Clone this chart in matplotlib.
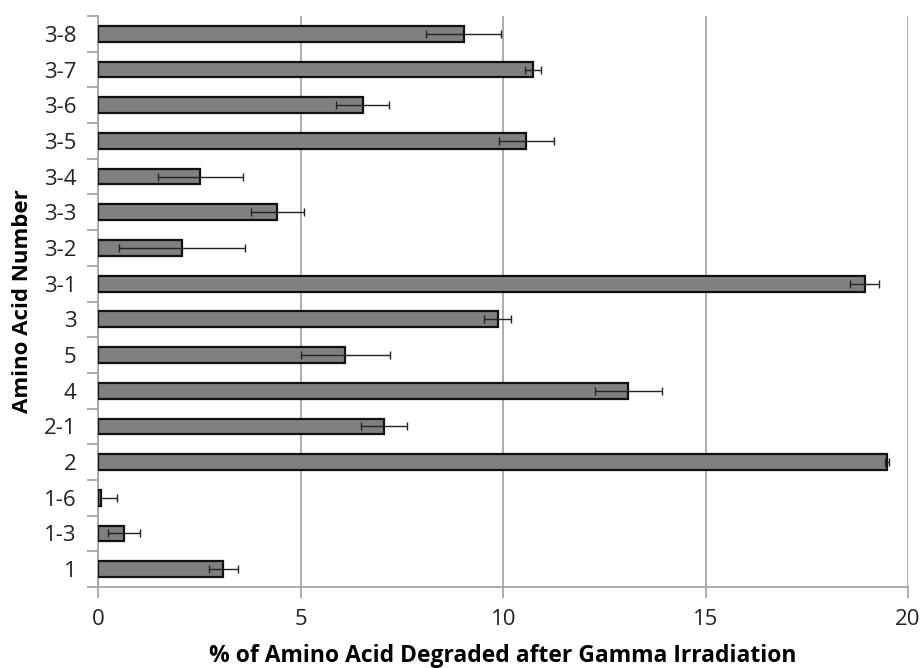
import numpy as np
import matplotlib
matplotlib.use("Agg")
import matplotlib.pyplot as plt
from matplotlib.ticker import FixedLocator

plt.rcParams['font.family'] = ['Open Sans', 'DejaVu Sans']

# amino acids, listed bottom to top
labels = ["1", "1-3", "1-6", "2", "2-1", "4", "5", "3",
          "3-1", "3-2", "3-3", "3-4", "3-5", "3-6", "3-7", "3-8"]
degraded = [3.08, 0.63, 0.06, 19.47, 7.05, 13.09, 6.10, 9.86,
            18.93, 2.06, 4.42, 2.52, 10.57, 6.53, 10.74, 9.02]
err = [0.36, 0.40, 0.40, 0.05, 0.57, 0.83, 1.10, 0.34,
       0.36, 1.55, 0.66, 1.05, 0.68, 0.66, 0.20, 0.93]

fig = plt.figure(figsize=(9.22, 6.68), dpi=100)
ax = fig.add_axes([0.1068, 0.1213, 0.8780, 0.8547])

y = np.arange(len(labels))
ax.barh(y, degraded, height=0.44, color='#808080', edgecolor='#111111',
        linewidth=1.6, zorder=3)
ax.errorbar(degraded, y, xerr=err, fmt='none', ecolor='#222222',
            elinewidth=1.0, capsize=2.6, capthick=1.0, zorder=4)

ax.set_xlim(0, 20)
ax.set_ylim(-0.5, len(labels) - 0.5)
ax.set_xticks([0, 5, 10, 15, 20])
ax.set_yticks(y)
ax.set_yticklabels(labels)
ax.yaxis.set_minor_locator(FixedLocator(np.arange(-0.5, len(labels), 1.0)))

ax.grid(axis='x', color='#a6a6a6', linewidth=1.3, zorder=0)
for side in ('top', 'right'):
    ax.spines[side].set_visible(False)
for side in ('left', 'bottom'):
    ax.spines[side].set_color('#a6a6a6')
    ax.spines[side].set_linewidth(1.3)

ax.tick_params(axis='y', which='major', length=0, pad=16,
               labelsize=16, labelcolor='#222222')
ax.tick_params(axis='y', which='minor', length=8, width=1.3, color='#a6a6a6')
ax.tick_params(axis='x', which='major', length=8, width=1.3, color='#a6a6a6',
               labelsize=16, labelcolor='#222222', pad=8)

ax.set_xlabel('% of Amino Acid Degraded after Gamma Irradiation',
              fontsize=16.5, fontweight='bold', labelpad=10)
ax.set_ylabel('Amino Acid Number', fontsize=16, fontweight='bold', labelpad=8)

fig.savefig('out.png', dpi=100)
